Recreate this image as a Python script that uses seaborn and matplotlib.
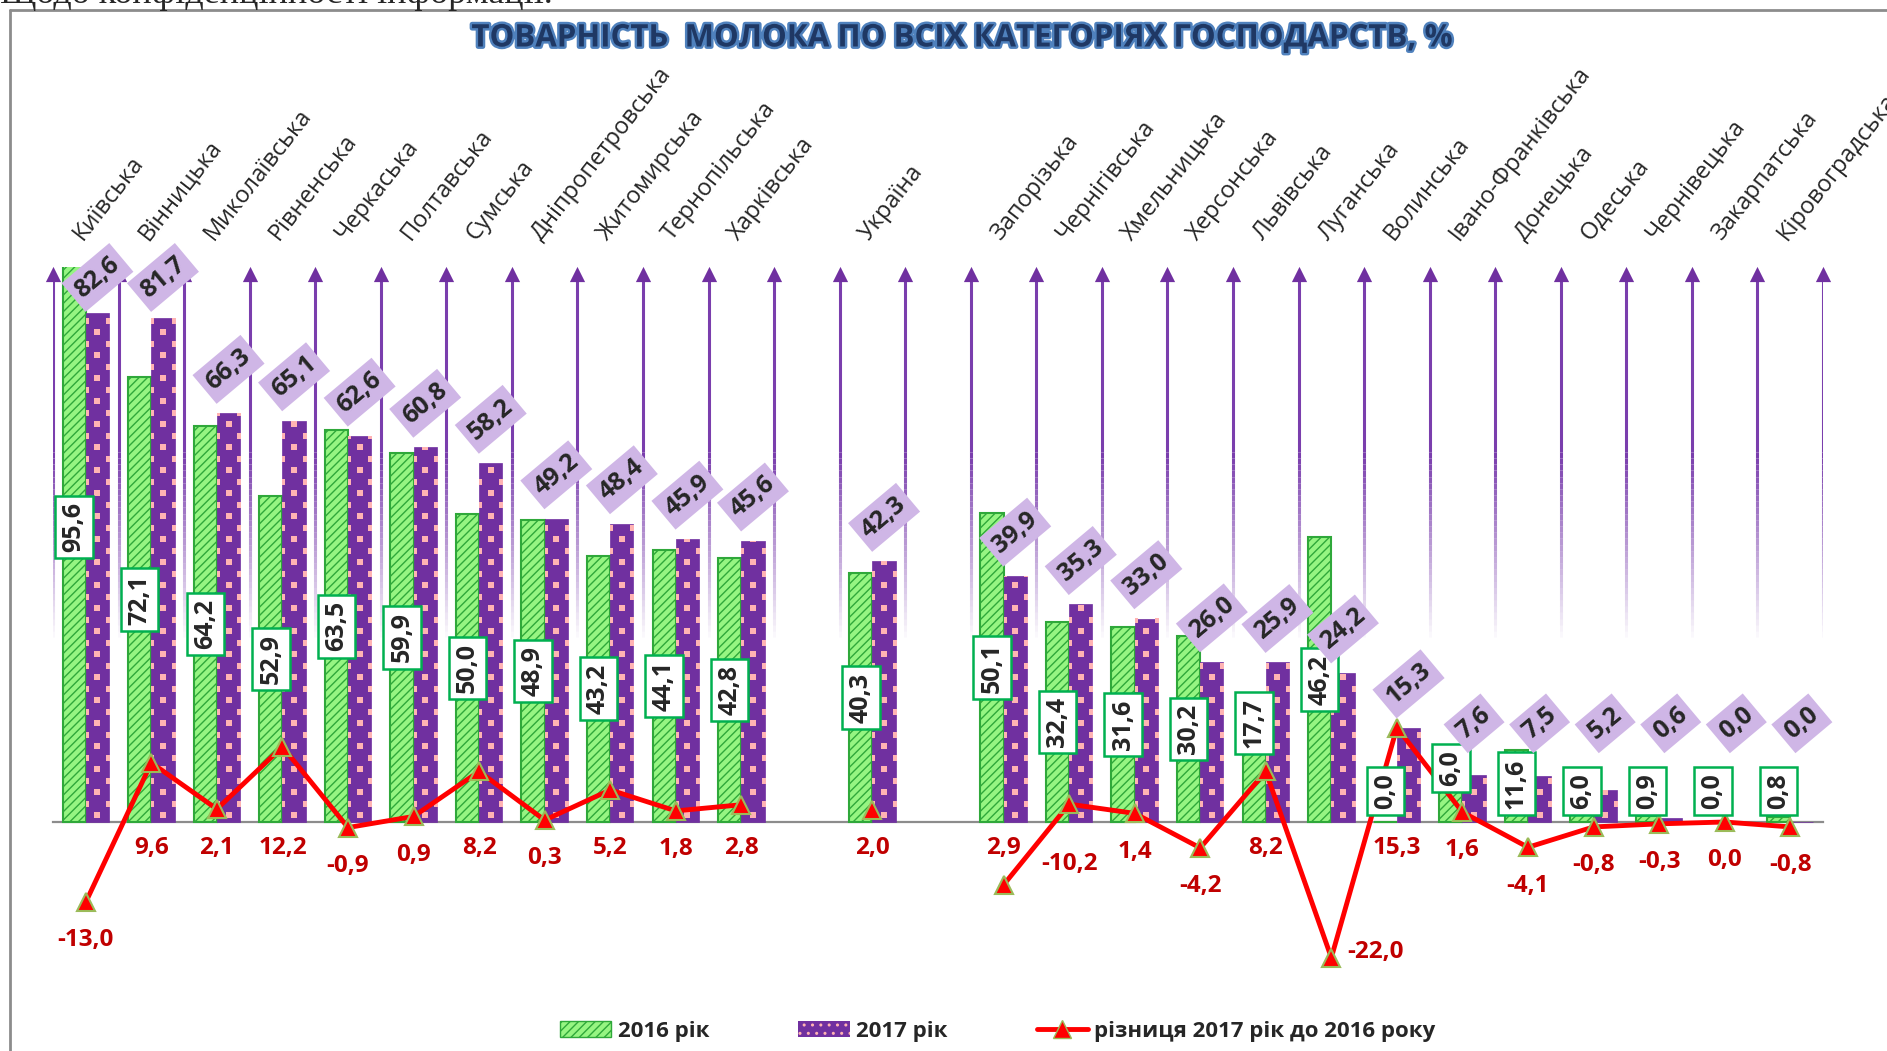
import numpy as np
import pandas as pd
import matplotlib
matplotlib.use("Agg")
import matplotlib.pyplot as plt
import matplotlib.patheffects as pe
from matplotlib.collections import LineCollection
from matplotlib.colors import to_rgba
from matplotlib.lines import Line2D
from matplotlib.patches import Patch
import seaborn as sns

# chart order; '' and ' ' are the empty slots around Україна
regions = ["Київська", "Вінницька", "Миколаївська", "Рівненська", "Черкаська",
           "Полтавська", "Сумська", "Дніпропетровська", "Житомирська",
           "Тернопільська", "Харківська", "", "Україна", " ",
           "Запорізька", "Чернігівська", "Хмельницька", "Херсонська", "Львівська",
           "Луганська", "Волинська", "Івано-Франківська", "Донецька", "Одеська",
           "Чернівецька", "Закарпатська", "Кіровоградська"]
y2016 = [95.6, 72.1, 64.2, 52.9, 63.5, 59.9, 50.0, 48.9, 43.2, 44.1, 42.8, None, 40.3, None,
         50.1, 32.4, 31.6, 30.2, 17.7, 46.2, 0.0, 6.0, 11.6, 6.0, 0.9, 0.0, 0.8]
y2017 = [82.6, 81.7, 66.3, 65.1, 62.6, 60.8, 58.2, 49.2, 48.4, 45.9, 45.6, None, 42.3, None,
         39.9, 35.3, 33.0, 26.0, 25.9, 24.2, 15.3, 7.6, 7.5, 5.2, 0.6, 0.0, 0.0]
diff = [-13.0, 9.6, 2.1, 12.2, -0.9, 0.9, 8.2, 0.3, 5.2, 1.8, 2.8, None, 2.0, None,
        -10.2, 2.9, 1.4, -4.2, 8.2, -22.0, 15.3, 1.6, -4.1, -0.8, -0.3, 0.0, -0.8]
# labels as printed on the original chart (Запорізька / Чернігівська swapped there)
diff_labels = ["-13,0", "9,6", "2,1", "12,2", "-0,9", "0,9", "8,2", "0,3", "5,2", "1,8",
               "2,8", None, "2,0", None, "2,9", "-10,2", "1,4", "-4,2", "8,2", "-22,0",
               "15,3", "1,6", "-4,1", "-0,8", "-0,3", "0,0", "-0,8"]
years = ["2016 рік", "2017 рік"]
legend_line = "різниця 2017 рік до 2016 року"
title_text = "ТОВАРНІСТЬ  МОЛОКА ПО ВСІХ КАТЕГОРІЯХ ГОСПОДАРСТВ, %"
header_text = "Щодо конфіденційності інформації."

# label tweaks that were hand-placed in the original
bar16_label_y = {"Львівська": 16.1, "Івано-Франківська": 8.8}
diff_label_pos = {"Чернігівська": (0.0, -6.8), "Луганська": (0.67, -21.1)}

GREEN = "#96F582"
GREEN_EDGE = "#2FA83A"
PURPLE = "#7030A0"
PINK = "#FFB3B3"
LILAC = "#CFB6E6"
RED = "#FF0000"
DARK_RED = "#C00000"
GREY = "#8C8C8C"
ARROW = "#7A3EAD"

sns.set_style("white")
plt.rcParams["font.family"] = ["Open Sans", "DejaVu Sans"]
plt.rcParams["hatch.linewidth"] = 1.0

W, H = 1887, 1051
fig = plt.figure(figsize=(W / 100, H / 100), dpi=100)
ax = fig.add_axes([53 / W, 1 - 1007 / H, 1770 / W, 740 / H])

rows = []
for name, a, b in zip(regions, y2016, y2017):
    if a is None:
        continue
    rows.append((name, years[0], a))
    rows.append((name, years[1], b))
df = pd.DataFrame(rows, columns=["region", "year", "value"])

sns.barplot(data=df, x="region", y="value", hue="year", order=regions, hue_order=years,
            palette=[GREEN, PURPLE], width=0.71, gap=0, saturation=1, errorbar=None,
            legend=False, ax=ax, zorder=3)
n = len(regions)
ax.set_xlim(-0.5, n - 0.5)
ax.set_ylim(-30, 90)
ax.set_xlabel("")
ax.set_ylabel("")

bars16, bars17 = ax.containers[0], ax.containers[1]
for b in bars16:
    b.set_facecolor(GREEN)
    b.set_edgecolor(GREEN_EDGE)
    b.set_hatch("////")
    b.set_linewidth(1.5)
for b in bars17:
    b.set_facecolor(PURPLE)
    b.set_edgecolor(PURPLE)
    b.set_linewidth(0.5)

# axis line with ticks at the slot boundaries
for s in ["top", "right", "left"]:
    ax.spines[s].set_visible(False)
ax.spines["bottom"].set_position(("data", 0))
ax.spines["bottom"].set_color(GREY)
ax.spines["bottom"].set_linewidth(1.6)
bounds = np.arange(n + 1) - 0.5
ax.set_xticks(bounds)
ax.set_xticklabels([])
ax.set_yticks([])
ax.tick_params(axis="x", direction="out", length=7, width=1.5, color=GREY)

# vertical arrows fading out toward the bars
rgba = np.array(to_rgba(ARROW))
levels = np.linspace(30, 60, 31)
segs, cols = [], []
for xb in bounds:
    for k in range(len(levels) - 1):
        segs.append([(xb, levels[k]), (xb, levels[k + 1])])
        c = rgba.copy()
        c[3] = (k + 1) / (len(levels) - 1)
        cols.append(c)
    segs.append([(xb, 60), (xb, 88.5)])
    cols.append(rgba)
ax.add_collection(LineCollection(segs, colors=cols, linewidths=2.2, zorder=1))
ax.scatter(bounds, np.full(len(bounds), 88.8), marker="^", s=120, color=PURPLE,
           linewidths=0, zorder=1, clip_on=False)

# layout is fixed, get the scale for the dot texture
fig.canvas.draw()
zero_px = ax.transData.transform((0, 0))[1]
ppu = ax.transData.transform((0, 1))[1] - zero_px

dy = 11.5 / ppu
for b in bars17:
    h = b.get_height()
    if h <= 0:
        continue
    x0, w = b.get_x(), b.get_width()
    xs, ys = [], []
    k = 0
    y = dy * 0.6
    while y < h + dy:
        if k % 2 == 0:
            xs.append(x0 + w / 2)
            ys.append(y)
        else:
            xs += [x0, x0 + w]
            ys += [y, y]
        y += dy
        k += 1
    sc = ax.scatter(xs, ys, marker="s", s=18, color=PINK, linewidths=0, zorder=3.5)
    sc.set_clip_path(b)

# difference line
xpos = np.arange(n)
dvals = np.array([np.nan if d is None else d for d in diff], dtype=float)
ax.plot(xpos, dvals, color=RED, lw=3.5, marker="^", ms=13, mfc=RED, mec="#9BBB59",
        mew=1.5, zorder=5, clip_on=False)

for i, lab in enumerate(diff_labels):
    if lab is None:
        continue
    v = float(lab.replace(",", "."))
    dx, yl = 0.0, min(v, 2.0) - 6.2
    if regions[i] in diff_label_pos:
        dx, yl = diff_label_pos[regions[i]]
    ax.text(i + dx, yl, lab, color=DARK_RED, fontsize=17.5, fontweight="bold",
            ha="center", va="center", zorder=7)


def fmt(v):
    return f"{v:.1f}".replace(".", ",")


labels16 = []
for b in bars16:
    cx = b.get_x() + b.get_width() / 2
    h = b.get_height()
    name = regions[int(round(cx))]
    yl = bar16_label_y.get(name, h / 2)
    t = ax.text(cx, yl, fmt(h), rotation=90, fontsize=18, fontweight="bold",
                ha="center", va="center", rotation_mode="anchor", zorder=8,
                bbox=dict(boxstyle="square,pad=0.25", fc="white", ec="#00B050", lw=1.8))
    if name not in bar16_label_y:
        labels16.append(t)

for b in bars17:
    cx = b.get_x() + b.get_width() / 2
    h = b.get_height()
    yl = min(max(h + 7.1, 16.0), 88.3)
    ax.text(cx, yl, fmt(h), rotation=40, fontsize=18, fontweight="bold",
            ha="center", va="center", rotation_mode="anchor", zorder=9, clip_on=False,
            bbox=dict(boxstyle="square,pad=0.25", fc=LILAC, ec="none"))

# region names above the arrows
for i, name in enumerate(regions):
    if not name.strip():
        continue
    ax.text(i - 0.05, 94.2, name, rotation=52, rotation_mode="anchor", ha="left",
            va="baseline", fontsize=17, clip_on=False)

# title, frame and the clipped line of document text above it
title = fig.text(960 / W, 1 - 38.5 / H, title_text, ha="center", va="center",
                 fontsize=24, fontweight="bold", color="#1F3864",
                 path_effects=[pe.withStroke(linewidth=3.5, foreground="#4F81BD")])
fig.text(0.0, 1 - 3 / H, header_text, ha="left", va="baseline", fontsize=26,
         family=["Liberation Serif", "DejaVu Serif"])
fig.add_artist(Line2D([10 / W, 10 / W], [0, 1 - 10 / H], transform=fig.transFigure,
                      color=GREY, lw=2))
fig.add_artist(Line2D([10 / W, 1], [1 - 10 / H, 1 - 10 / H], transform=fig.transFigure,
                      color=GREY, lw=2))

handles = [Patch(facecolor=GREEN, edgecolor=GREEN_EDGE, hatch="////"),
           Patch(facecolor=PURPLE, edgecolor=PINK, hatch="..", lw=0),
           Line2D([], [], color=RED, lw=3.5, marker="^", ms=13, mfc=RED, mec="#9BBB59")]
fig.legend(handles, years + [legend_line], loc="center", bbox_to_anchor=(998 / W, 20 / H),
           ncol=3, frameon=False, prop=dict(weight="bold", size=16), handlelength=2.3,
           handleheight=0.7, handletextpad=0.3, columnspacing=4.0)

# fit title width and keep small 2016 boxes above the axis
fig.canvas.draw()
renderer = fig.canvas.get_renderer()
tw = title.get_window_extent(renderer).width
title.set_fontsize(24 * 983 / tw)
for t in labels16:
    bottom = t.get_bbox_patch().get_window_extent(renderer).y0
    if bottom < zero_px + 7:
        x, y = t.get_position()
        t.set_position((x, y + (zero_px + 7 - bottom) / ppu))

fig.savefig("out.png", dpi=100)
